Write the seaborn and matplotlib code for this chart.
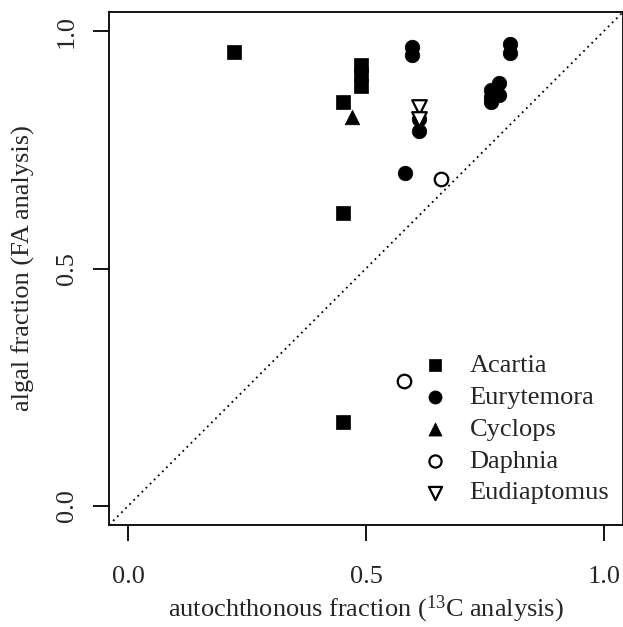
import pandas as pd
import seaborn as sns
import matplotlib.pyplot as plt

# Values
acartia_x = [0.223, 0.489, 0.489, 0.489, 0.451, 0.451, 0.451]
acartia_y = [0.956, 0.928, 0.909, 0.884, 0.851, 0.617, 0.176]

eurytemora_x = [0.582, 0.597, 0.597, 0.611, 0.611, 0.803, 0.803, 0.762, 0.762, 0.762, 0.780, 0.780]
eurytemora_y = [0.702, 0.966, 0.949, 0.815, 0.790, 0.973, 0.954, 0.875, 0.862, 0.850, 0.890, 0.865]

cyclops_x = [0.470]
cyclops_y = [0.820]

daphnia_x = [0.657, 0.580]
daphnia_y = [0.688, 0.263]

eudiaptomus_x = [0.611, 0.611]
eudiaptomus_y = [0.841, 0.815]

species = ["Acartia", "Eurytemora", "Cyclops", "Daphnia", "Eudiaptomus"]
xs = [acartia_x, eurytemora_x, cyclops_x, daphnia_x, eudiaptomus_x]
ys = [acartia_y, eurytemora_y, cyclops_y, daphnia_y, eudiaptomus_y]

df = pd.concat([pd.DataFrame({"auto": x, "algal": y, "species": s})
                for s, x, y in zip(species, xs, ys)], ignore_index=True)

# marker, filled, size
styles = {
    "Acartia": ("s", True, 95),
    "Eurytemora": ("o", True, 110),
    "Cyclops": ("^", True, 110),
    "Daphnia": ("o", False, 95),
    "Eudiaptomus": ("v", False, 110),
}

sns.set_style("ticks")
plt.rcParams["font.family"] = ["Liberation Serif", "DejaVu Serif"]
plt.rcParams["mathtext.fontset"] = "custom"
plt.rcParams["mathtext.rm"] = "Liberation Serif"
plt.rcParams["mathtext.it"] = "Liberation Serif:italic"

fig = plt.figure(figsize=(6.23, 6.27), dpi=100)
ax = fig.add_axes([109 / 623, 102 / 627, 514 / 623, 513 / 627])

# 1:1 line
ax.axline((0, 0), (1, 1), color="black", linestyle=(0, (1, 2.2)), linewidth=1.3, zorder=1)

for s in species:
    m, filled, size = styles[s]
    sub = df[df["species"] == s]
    if filled:
        sns.scatterplot(data=sub, x="auto", y="algal", marker=m, s=size, color="black",
                        edgecolor="black", linewidth=0.5, ax=ax, label=s, zorder=3)
    else:
        sns.scatterplot(data=sub, x="auto", y="algal", marker=m, s=size, facecolors="white",
                        edgecolors="black", linewidth=1.6, ax=ax, label=s, zorder=3)

ax.set_xlim(-0.04, 1.04)
ax.set_ylim(-0.04, 1.04)
ax.set_xticks([0.0, 0.5, 1.0])
ax.set_yticks([0.0, 0.5, 1.0])
ax.set_xticklabels(["0.0", "0.5", "1.0"])
ax.set_yticklabels(["0.0", "0.5", "1.0"], rotation=90, va="center")
ax.tick_params(axis="both", length=11.5, width=1.3, labelsize=19, color="black")
ax.tick_params(axis="x", pad=18)
ax.tick_params(axis="y", pad=11)

for sp in ax.spines.values():
    sp.set_linewidth(1.3)
    sp.set_color("black")

ax.set_xlabel("autochthonous fraction ($^{13}$C analysis)", fontsize=19, labelpad=4)
ax.set_ylabel("algal fraction (FA analysis)", fontsize=19, labelpad=15)

ax.legend(loc="lower right", bbox_to_anchor=(0.994, 0.0195), frameon=False, fontsize=19,
          handletextpad=0.3, labelspacing=0.32, borderaxespad=0.0, markerscale=0.9)

fig.savefig("out.png", dpi=100)
